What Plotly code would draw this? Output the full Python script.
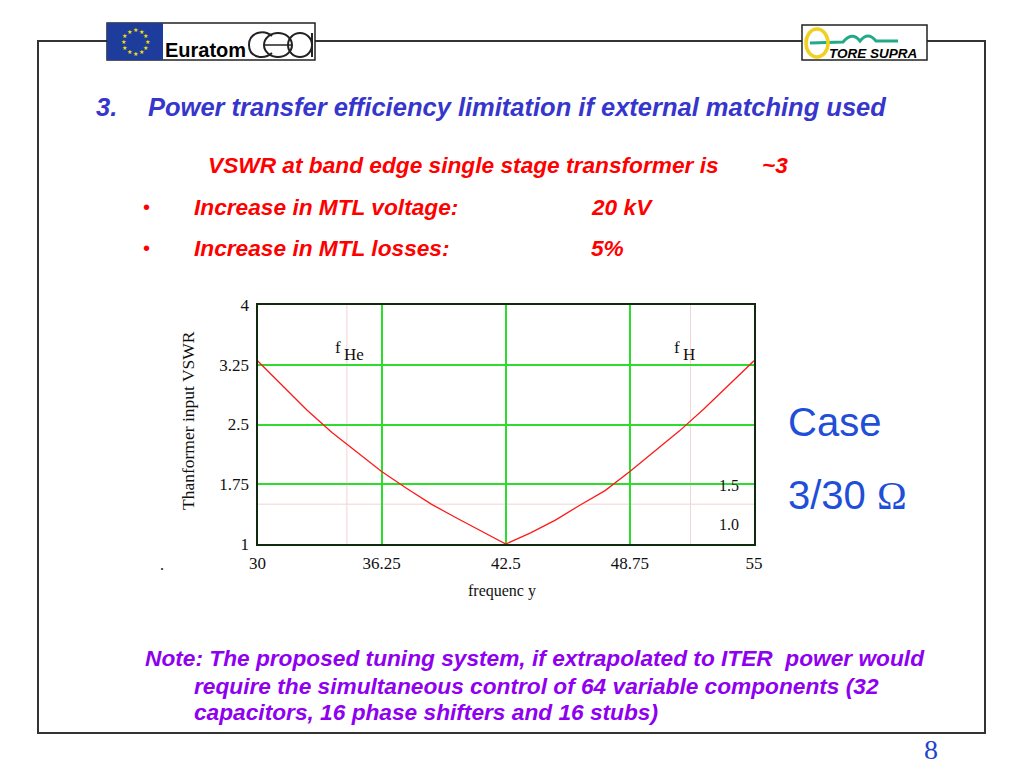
import math
import plotly.graph_objects as go

# ---- data ----
freq = [30, 31.25, 32.5, 33.75, 35, 36.25, 37.5, 38.75, 40, 41.25, 42.5,
        43.75, 45, 46.25, 47.5, 48.75, 50, 51.25, 52.5, 53.75, 55]
vswr = [3.30, 2.99, 2.68, 2.40, 2.16, 1.91, 1.70, 1.50, 1.33, 1.17, 1.00,
        1.14, 1.30, 1.49, 1.67, 1.91, 2.17, 2.42, 2.70, 3.00, 3.30]
x_ticks = [30, 36.25, 42.5, 48.75, 55]
x_tick_labels = ["30", "36.25", "42.5", "48.75", "55"]
y_ticks = [1, 1.75, 2.5, 3.25, 4]
y_tick_labels = ["1", "1.75", "2.5", "3.25", "4"]
band_edges = [34.5, 51.8]          # f_He, f_H
vswr_ref = 1.5

# page offset (body margin) compensation
OFF = 8
W, H = 1024 - OFF, 768 - OFF
def px(x): return (x - OFF) / W
def py(y): return 1 - (y - OFF) / H

SANS = "Liberation Sans, Arial, sans-serif"
SERIF = "Liberation Serif, Times New Roman, serif"

fig = go.Figure()
fig.add_trace(go.Scatter(x=freq, y=vswr, mode="lines",
                         line=dict(color="#ff1a1a", width=1.3),
                         showlegend=False, hoverinfo="skip"))

shapes = []
# pink reference grid
for f in band_edges:
    shapes.append(dict(type="line", xref="x", yref="y", x0=f, x1=f, y0=1, y1=4,
                       line=dict(color="#f2d4d4", width=1), layer="below"))
shapes.append(dict(type="line", xref="x", yref="y", x0=30, x1=55, y0=vswr_ref, y1=vswr_ref,
                   line=dict(color="#f2d4d4", width=1), layer="below"))

axis_common = dict(showgrid=True, gridcolor="#2edc2e", gridwidth=1.5,
                   zeroline=False, showline=True, linecolor="#0f2a0f", linewidth=2,
                   mirror=True, ticks="", automargin=False,
                   tickfont=dict(family=SERIF, size=17, color="#111"))
fig.update_xaxes(range=[30, 55], domain=[px(257.5), px(754)],
                 tickvals=x_ticks, ticktext=x_tick_labels, ticklabelstandoff=3,
                 **axis_common)
fig.update_yaxes(range=[1, 4], domain=[py(544), py(305)],
                 tickvals=y_ticks, ticktext=y_tick_labels, ticklabelstandoff=3,
                 **axis_common)

ann = []
def text(x, y, s, size, color, family=SANS, xanchor="left", yanchor="middle", angle=0):
    ann.append(dict(x=px(x), y=py(y), xref="paper", yref="paper", text=s, showarrow=False,
                    xanchor=xanchor, yanchor=yanchor, textangle=angle,
                    font=dict(family=family, size=size, color=color)))

BLUE = "#3636cc"; RED = "#ff0000"; PURPLE = "#8f00f0"; CASE = "#1f4fd8"
text(94, 107, "<b><i>3.</i></b>", 25.5, BLUE)
text(146, 107, "<b><i>Power transfer efficiency limitation if external matching used</i></b>", 25.5, BLUE)
text(206, 165, "<b><i>VSWR at band edge single stage transformer is</i></b>", 22.7, RED)
text(760, 165, "<b><i>~3</i></b>", 22.7, RED)
text(141, 207, "•", 20, RED)
text(192, 207, "<b><i>Increase in MTL voltage:</i></b>", 22.7, RED)
text(589, 207, "<b><i>20 kV</i></b>", 22.7, RED)
text(141, 248, "•", 20, RED)
text(192, 248, "<b><i>Increase in MTL losses:</i></b>", 22.7, RED)
text(589, 248, "<b><i>5%</i></b>", 22.7, RED)

text(786, 422, "Case", 40, CASE)
text(786, 495, "3/30 <span style='font-family:Liberation Serif, Times New Roman, serif'>Ω</span>", 40, CASE)

text(143, 658, "<b><i>Note: The proposed tuning system, if extrapolated to ITER  power would</i></b>", 22.7, PURPLE)
text(192, 686, "<b><i>require the simultaneous control of 64 variable components (32</i></b>", 22.7, PURPLE)
text(192, 712, "<b><i>capacitors, 16 phase shifters and 16 stubs)</i></b>", 22.7, PURPLE)
text(931, 749, "8", 28, "#2244cc", family=SERIF, xanchor="center")

# chart texts
text(188, 421, "Thanformer input VSWR", 17.5, "#111", family=SERIF, xanchor="center", angle=-90)
text(502, 591, "frequenc y", 16, "#111", family=SERIF, xanchor="center")
text(338, 347, "f", 17, "#111", family=SERIF, xanchor="center")
text(342, 355, "He", 17, "#111", family=SERIF)
text(677, 347, "f", 17, "#111", family=SERIF, xanchor="center")
text(681, 355, "H", 17, "#111", family=SERIF)
text(717, 486, "1.5", 16, "#111", family=SERIF)
text(717, 524, "1.0", 16, "#111", family=SERIF)
text(162, 564, ".", 16, "#111", family=SERIF, xanchor="center")

# logos text
text(163, 50, "<b>Euratom</b>", 20, "#000")
text(827, 54, "<b><i>TORE SUPRA</i></b>", 13.5, "#000")

# EU stars
for k in range(12):
    a = 2 * math.pi * k / 12
    text(135 + 12 * math.cos(a), 42 + 12 * math.sin(a), "★", 6, "#f5e000", xanchor="center")

LC = "#333333"
def line(x0, y0, x1, y1, color=LC, w=2):
    shapes.append(dict(type="line", xref="paper", yref="paper", x0=px(x0), y0=py(y0),
                       x1=px(x1), y1=py(y1), line=dict(color=color, width=w)))
# slide frame
shapes.append(dict(type="rect", xref="paper", yref="paper", x0=px(38), x1=px(985),
                   y0=py(733), y1=py(41), line=dict(color=LC, width=2)))
# Euratom box
shapes.append(dict(type="rect", xref="paper", yref="paper", x0=px(107), x1=px(315),
                   y0=py(60), y1=py(23), line=dict(color="#222", width=1.5), fillcolor="white"))
shapes.append(dict(type="rect", xref="paper", yref="paper", x0=px(107), x1=px(163),
                   y0=py(60), y1=py(23), line=dict(width=0), fillcolor="#1d3c9c"))

def P(x, y): return f"{px(x)},{py(y)}"
# cea outline letters (approximation)
shapes.append(dict(type="path", xref="paper", yref="paper",
                   path=f"M {P(272,36)} C {P(264,29)} {P(249,32)} {P(249,45)} C {P(249,58)} {P(264,60)} {P(272,53)}",
                   line=dict(color="#222", width=2)))
shapes.append(dict(type="circle", xref="paper", yref="paper", x0=px(264), x1=px(292),
                   y0=py(57), y1=py(33), line=dict(color="#222", width=2)))
line(265, 45, 291, 45, color="#222", w=1.5)
shapes.append(dict(type="circle", xref="paper", yref="paper", x0=px(288), x1=px(312),
                   y0=py(57), y1=py(33), line=dict(color="#222", width=2)))
line(312, 33, 312, 57, color="#222", w=2)
# Tore Supra box
shapes.append(dict(type="rect", xref="paper", yref="paper", x0=px(802), x1=px(927),
                   y0=py(60), y1=py(25), line=dict(color="#222", width=1.5), fillcolor="white"))
shapes.append(dict(type="path", xref="paper", yref="paper",
                   path=f"M {P(810,43)} L {P(843,42)} Q {P(852,31)} {P(860,41)} "
                        f"Q {P(868,31)} {P(876,41)} L {P(898,41)}",
                   line=dict(color="#22aa88", width=3)))
shapes.append(dict(type="circle", xref="paper", yref="paper", x0=px(806), x1=px(828),
                   y0=py(57), y1=py(29), line=dict(color="#f0d020", width=3.5)))

fig.update_layout(width=W, height=H, margin=dict(l=0, r=0, t=0, b=0, autoexpand=False),
                  paper_bgcolor="white", plot_bgcolor="white",
                  annotations=ann, shapes=shapes, showlegend=False)
fig.write_html("out.html")
